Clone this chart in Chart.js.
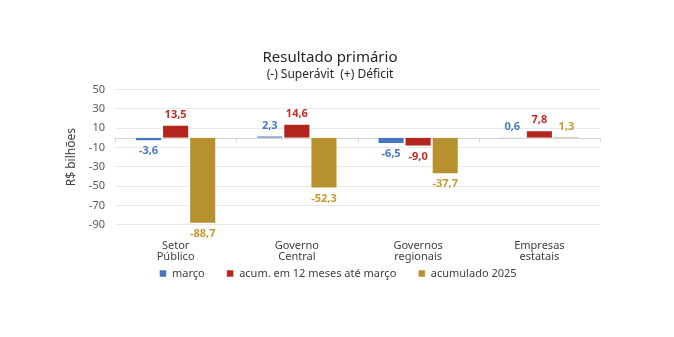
<!DOCTYPE html>
<html>
<head>
<meta charset="utf-8">
<script src="https://cdn.jsdelivr.net/npm/chart.js@4/dist/chart.umd.min.js"></script>
<style>
  html, body { margin: 0; padding: 0; background: #ffffff; }
  #wrap { width: 674px; height: 337px; }
</style>
</head>
<body>
<div id="wrap"><canvas id="c" width="674" height="337"></canvas></div>
<script>
// Resultado primário por esfera de governo (R$ bilhões)
const categories = [["Setor", "Público"], ["Governo", "Central"], ["Governos", "regionais"], ["Empresas", "estatais"]];
const marco = [-3.6, 2.3, -6.5, 0.6];
const acum12m = [13.5, 14.6, -9.0, 7.8];
const acum2025 = [-88.7, -52.3, -37.7, 1.3];
const yTicks = [-90, -70, -50, -30, -10, 10, 30, 50];

const FONT = "'Noto Sans', 'Open Sans', sans-serif";
const fmt = v => v.toFixed(1).replace('.', ',');

const series = [
  { label: "março", data: marco, color: "#4674c1", text: "#4a78c0" },
  { label: "acum. em 12 meses até março", data: acum12m, color: "#b3241c", text: "#c22d28" },
  { label: "acumulado 2025", data: acum2025, color: "#b7912f", text: "#c89b30" }
];

// zero line, category separators and value labels
const extras = {
  id: "extras",
  afterLayout(chart) {
    // legend sits a little right of the title and close under the category labels
    const lg = chart.legend;
    if (lg) {
      lg.left += 8; lg.right += 8;
      lg.top -= 32; lg.bottom -= 32;
    }
  },
  beforeDatasetsDraw(chart) {
    const { ctx, chartArea } = chart;
    const x = chart.scales.x, y = chart.scales.y;
    const y0 = Math.round(y.getPixelForValue(0)) + 0.5;
    ctx.save();
    ctx.strokeStyle = "#d4d4d4";
    ctx.lineWidth = 1;
    ctx.beginPath();
    ctx.moveTo(chartArea.left, y0);
    ctx.lineTo(chartArea.right, y0);
    const n = x.ticks.length;
    const w = (chartArea.right - chartArea.left) / n;
    for (let i = 0; i <= n; i++) {
      const px = Math.round(i === n ? chartArea.right : x.getPixelForTick(i) - w / 2) + 0.5;
      ctx.moveTo(px, y0);
      ctx.lineTo(px, y0 + 4);
    }
    ctx.stroke();
    ctx.restore();
  },
  afterDatasetsDraw(chart) {
    const { ctx } = chart;
    ctx.save();
    ctx.font = "bold 11px " + FONT;
    ctx.textAlign = "center";
    ctx.textBaseline = "middle";
    chart.data.datasets.forEach((ds, di) => {
      const meta = chart.getDatasetMeta(di);
      meta.data.forEach((bar, i) => {
        const v = ds.data[i];
        const yy = v >= 0 ? bar.y - 10 : bar.y + 10;
        ctx.fillStyle = series[di].text;
        ctx.fillText(fmt(v), bar.x, yy);
      });
    });
    ctx.restore();
  }
};

new Chart(document.getElementById("c"), {
  type: "bar",
  data: {
    labels: categories,
    datasets: series.map(s => ({
      label: s.label,
      data: s.data,
      backgroundColor: s.color,
      borderColor: "rgba(255,255,255,0.55)",
      borderWidth: 1,
      categoryPercentage: 0.67,
      barPercentage: 1.0
    }))
  },
  options: {
    responsive: false,
    animation: false,
    devicePixelRatio: 1,
    layout: { padding: { left: 60, right: 74, top: 0, bottom: 16 } },
    plugins: {
      title: {
        display: true,
        text: "Resultado primário",
        color: "#262626",
        font: { family: FONT, size: 15, weight: "normal" },
        padding: { top: 49, bottom: 0 }
      },
      subtitle: {
        display: true,
        text: "(-) Superávit  (+) Déficit",
        color: "#262626",
        font: { family: FONT, size: 12 },
        padding: { top: 0, bottom: 8 }
      },
      legend: {
        position: "bottom",
        labels: {
          boxWidth: 7,
          boxHeight: 7,
          padding: 22,
          color: "#404040",
          font: { family: FONT, size: 11 }
        }
      },
      tooltip: { enabled: false }
    },
    scales: {
      x: {
        grid: { display: false, drawTicks: false },
        border: { display: false },
        ticks: { color: "#404040", font: { family: FONT, size: 11, lineHeight: 1.05 }, padding: 15, maxRotation: 0, autoSkip: false }
      },
      y: {
        min: -90,
        max: 50,
        afterBuildTicks(scale) { scale.ticks = yTicks.map(v => ({ value: v })); },
        afterFit(scale) { scale.width = 55; },
        grid: { color: "#e9e9e9", drawTicks: false },
        border: { display: false },
        ticks: { color: "#595959", font: { family: FONT, size: 11 }, padding: 10, autoSkip: false },
        title: {
          display: true,
          text: "R$ bilhões",
          color: "#404040",
          font: { family: FONT, size: 12 },
          padding: { top: 4, bottom: 4 }
        }
      }
    }
  },
  plugins: [extras]
});
</script>
</body>
</html>
